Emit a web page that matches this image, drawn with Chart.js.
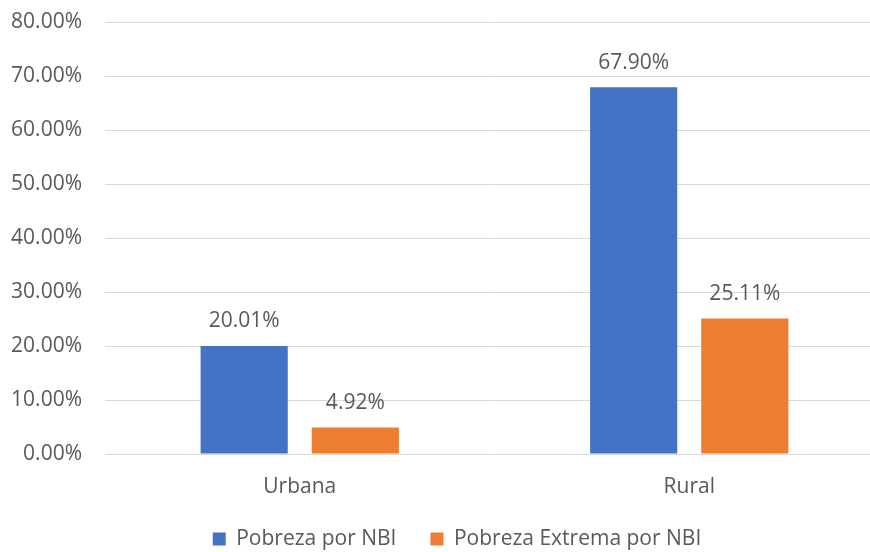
<!DOCTYPE html>
<html>
<head>
<meta charset="utf-8">
<script src="https://cdn.jsdelivr.net/npm/chart.js@4/dist/chart.umd.min.js"></script>
<style>
  html, body { margin: 0; padding: 0; background: #ffffff; overflow: hidden; }
  #wrap { position: relative; width: 870px; height: 552px; overflow: hidden; }
  #c { position: absolute; left: 0; top: 0; }
</style>
</head>
<body>
<div id="wrap"><canvas id="c" width="884" height="569"></canvas></div>
<script>
const categories = ['Urbana', 'Rural'];
const seriesNames = ['Pobreza por NBI', 'Pobreza Extrema por NBI'];
const pobrezaNBI = [20.01, 67.90];
const pobrezaExtremaNBI = [4.92, 25.11];
const yTickLabels = ['0.00%', '10.00%', '20.00%', '30.00%', '40.00%', '50.00%', '60.00%', '70.00%', '80.00%'];

const FONT = "'Open Sans', 'Noto Sans', sans-serif";
const FS = 21;
const TEXT = '#595959';

const valueLabels = {
  id: 'valueLabels',
  afterDatasetsDraw(chart) {
    const ctx = chart.ctx;
    ctx.save();
    ctx.font = FS + 'px ' + FONT;
    ctx.fillStyle = TEXT;
    ctx.textAlign = 'center';
    ctx.textBaseline = 'alphabetic';
    chart.data.datasets.forEach((ds, di) => {
      const meta = chart.getDatasetMeta(di);
      meta.data.forEach((bar, i) => {
        ctx.fillText(ds.data[i].toFixed(2) + '%', bar.x, bar.y - 18.5);
      });
    });
    ctx.restore();
  }
};

// place the legend where the original has it
const legendPlace = {
  id: 'legendPlace',
  afterLayout(chart) {
    const lg = chart.legend;
    if (!lg) return;
    const dx = 457 - (lg.left + lg.right) / 2;
    lg.left += dx;
    lg.right += dx;
    const dy = 494.5 - lg.top;
    lg.top += dy;
    lg.bottom += dy;
  }
};

new Chart(document.getElementById('c'), {
  type: 'bar',
  data: {
    labels: categories,
    datasets: [
      { label: seriesNames[0], data: pobrezaNBI, backgroundColor: '#4472C4', borderWidth: 0,
        categoryPercentage: 0.5707, barPercentage: 0.784 },
      { label: seriesNames[1], data: pobrezaExtremaNBI, backgroundColor: '#ED7D31', borderWidth: 0,
        categoryPercentage: 0.5707, barPercentage: 0.784 }
    ]
  },
  options: {
    responsive: false,
    animation: false,
    devicePixelRatio: 1,
    layout: { padding: { left: 8, right: 0, top: 22, bottom: 0 } },
    scales: {
      x: {
        grid: { display: false },
        border: { display: false },
        ticks: { color: TEXT, font: { family: FONT, size: FS }, padding: 12 },
        afterFit(scale) { scale.height = 50; }
      },
      y: {
        min: 0, max: 80,
        grid: { color: '#D9D9D9', lineWidth: 1, drawTicks: true, tickLength: 23, tickColor: 'rgba(0,0,0,0)' },
        border: { display: false },
        ticks: {
          stepSize: 10,
          color: TEXT,
          font: { family: FONT, size: FS },
          padding: 0,
          callback: (v, i) => yTickLabels[i]
        },
        afterFit(scale) { scale.width = 97; }
      }
    },
    plugins: {
      legend: {
        position: 'bottom',
        labels: {
          boxWidth: 13, boxHeight: 13, padding: 34,
          color: TEXT,
          font: { family: FONT, size: FS }
        }
      },
      tooltip: { enabled: false }
    }
  },
  plugins: [valueLabels, legendPlace]
});
</script>
</body>
</html>
